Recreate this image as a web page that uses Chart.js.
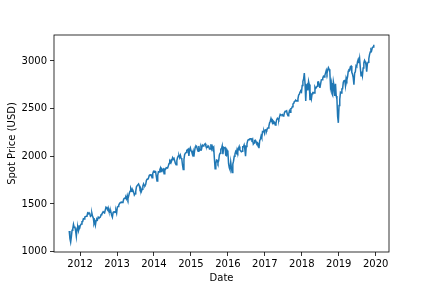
<!DOCTYPE html>
<html>
<head>
<meta charset="utf-8">
<script src="https://cdn.jsdelivr.net/npm/chart.js@4.4.1/dist/chart.umd.min.js"></script>
<style>
  html, body { margin: 0; padding: 0; background: #fff; }
  #wrap { width: 432px; height: 288px; }
</style>
</head>
<body>
<div id="wrap"><canvas id="chartJSContainer" width="432" height="288"></canvas></div>
<script>
// weekly closes (Fridays), first week 2011-09-16
var firstWeek = '2011-09-16';
var spx2011 = [1216, 1136, 1099, 1155, 1224, 1238, 1285, 1253, 1263, 1216, 1159, 1244, 1255, 1219, 1265, 1258];
var spx2012 = [1278, 1289, 1315, 1316, 1345, 1343, 1362, 1366, 1370, 1371, 1404, 1397, 1408, 1398, 1370, 1378,
  1403, 1369, 1353, 1295, 1318, 1278, 1325, 1343, 1335, 1362, 1355, 1357, 1363, 1386, 1391, 1405, 1418, 1411,
  1407, 1438, 1466, 1460, 1441, 1461, 1429, 1433, 1412, 1414, 1380, 1360, 1409, 1416, 1418, 1413, 1430, 1402];
var spx2013 = [1466, 1472, 1486, 1503, 1513, 1518, 1520, 1516, 1518, 1552, 1561, 1557, 1569, 1553, 1588, 1555,
  1582, 1614, 1634, 1667, 1650, 1631, 1643, 1626, 1593, 1606, 1632, 1680, 1692, 1692, 1710, 1691, 1656, 1664,
  1633, 1655, 1688, 1710, 1692, 1690, 1703, 1745, 1760, 1762, 1771, 1798, 1804, 1806, 1805, 1775, 1818, 1841];
var spx2014 = [1832, 1842, 1839, 1790, 1741, 1797, 1838, 1836, 1859, 1878, 1841, 1866, 1857, 1865, 1816, 1865,
  1863, 1881, 1878, 1878, 1900, 1924, 1950, 1937, 1963, 1961, 1985, 1968, 1978, 1978, 1925, 1910, 1955, 1988,
  2003, 2008, 1985, 2010, 1982, 1968, 1906, 1862, 1965, 2018, 2032, 2039, 2064, 2068, 2075, 2003, 2071, 2089];
var spx2015 = [2058, 2045, 2019, 2051, 1995, 2055, 2097, 2110, 2104, 2071, 2053, 2108, 2061, 2067, 2102, 2081,
  2117, 2108, 2116, 2123, 2131, 2107, 2092, 2094, 2110, 2102, 2077, 2077, 2127, 2080, 2104, 2078, 2092, 1971,
  1870, 1921, 1961, 1958, 1931, 1951, 2015, 2033, 2075, 2079, 2109, 2023, 2089, 2090, 2092, 2012, 2006, 2061];
var spx2016 = [2044, 1922, 1880, 1859, 1940, 1880, 1829, 1918, 1948, 1999, 2022, 2050, 2035, 2073, 2048, 2081,
  2102, 2065, 2057, 2047, 2052, 2099, 2099, 2119, 2071, 2000, 2103, 2130, 2162, 2175, 2174, 2183, 2184, 2184,
  2169, 2180, 2128, 2139, 2165, 2168, 2153, 2133, 2141, 2126, 2085, 2164, 2182, 2213, 2192, 2260, 2258, 2264, 2239];
var spx2017 = [2277, 2275, 2271, 2295, 2297, 2316, 2351, 2367, 2396, 2373, 2378, 2344, 2363, 2355, 2329, 2349,
  2384, 2399, 2391, 2382, 2416, 2439, 2432, 2433, 2438, 2423, 2425, 2459, 2473, 2472, 2477, 2441, 2426, 2443,
  2477, 2461, 2500, 2502, 2519, 2549, 2553, 2575, 2581, 2588, 2582, 2579, 2603, 2642, 2652, 2675, 2683, 2674];
var spx2018 = [2743, 2786, 2810, 2873, 2762, 2581, 2732, 2747, 2691, 2786, 2752, 2588, 2641, 2604, 2656, 2670,
  2670, 2663, 2728, 2713, 2721, 2735, 2779, 2780, 2755, 2718, 2760, 2801, 2802, 2819, 2840, 2833, 2850, 2875,
  2902, 2872, 2905, 2930, 2914, 2886, 2728, 2768, 2658, 2641, 2781, 2736, 2633, 2760, 2633, 2600, 2417, 2351];
var spx2019 = [2532, 2596, 2671, 2665, 2707, 2708, 2776, 2793, 2804, 2743, 2822, 2800, 2834, 2893, 2907, 2905,
  2940, 2946, 2881, 2860, 2826, 2752, 2873, 2887, 2950, 2942, 2990, 3014, 2977, 3026, 2932, 2844, 2889, 2847,
  2926, 2979, 3007, 2992, 2962, 2887, 2970, 2986, 3023, 3067, 3093, 3120, 3110, 3141, 3146, 3169];
var yearTicks = [2012, 2013, 2014, 2015, 2016, 2017, 2018, 2019, 2020];
var priceTicks = [1000, 1500, 2000, 2500, 3000];

var prices = [].concat(spx2011, spx2012, spx2013, spx2014, spx2015, spx2016, spx2017, spx2018, spx2019);

function decimalYear(d) {
  var y = d.getUTCFullYear();
  var start = Date.UTC(y, 0, 1);
  var end = Date.UTC(y + 1, 0, 1);
  return y + (d.getTime() - start) / (end - start);
}

var t0 = new Date(firstWeek + 'T00:00:00Z').getTime();
var points = prices.map(function(p, i) {
  return { x: decimalYear(new Date(t0 + i * 7 * 86400000)), y: p };
});

// matplotlib-like 5% margins
var xs = points.map(p => p.x);
var xMin = Math.min.apply(null, xs), xMax = Math.max.apply(null, xs);
var yMin = Math.min.apply(null, prices), yMax = Math.max.apply(null, prices);
var xPad = (xMax - xMin) * 0.05, yPad = (yMax - yMin) * 0.05;

var frame = {
  id: 'frame',
  afterDraw: function(chart) {
    var a = chart.chartArea;
    var c = chart.ctx;
    c.save();
    c.strokeStyle = '#000';
    c.lineWidth = 0.8;
    c.strokeRect(a.left, a.top, a.right - a.left, a.bottom - a.top);
    c.restore();
  }
};

Chart.defaults.font.family = '"DejaVu Sans", sans-serif';
Chart.defaults.font.size = 10;
Chart.defaults.color = '#000';

const ctx = document.getElementById('chartJSContainer').getContext('2d');
const chart = new Chart(ctx, {
  type: 'line',
  data: {
    datasets: [{
      data: points,
      borderColor: '#1f77b4',
      borderWidth: 1.5,
      pointRadius: 0,
      tension: 0,
      fill: false
    }]
  },
  options: {
    responsive: false,
    animation: false,
    events: [],
    layout: { padding: { top: 35, right: 43, left: 0, bottom: 0 } },
    plugins: { legend: { display: false }, tooltip: { enabled: false } },
    scales: {
      x: {
        type: 'linear',
        min: xMin - xPad,
        max: xMax + xPad,
        afterFit: s => { s.height = 36; },
        afterBuildTicks: s => { s.ticks = yearTicks.map(v => ({ value: v })); },
        grid: { drawOnChartArea: false, tickLength: 4, tickColor: '#000', tickWidth: 0.8 },
        border: { display: false },
        ticks: { padding: 2, maxRotation: 0, callback: v => String(v) },
        title: { display: true, text: 'Date', padding: { top: 0, bottom: 4 } }
      },
      y: {
        min: yMin - yPad,
        max: yMax + yPad,
        afterFit: s => { s.width = 54; },
        afterBuildTicks: s => { s.ticks = priceTicks.map(v => ({ value: v })); },
        grid: { drawOnChartArea: false, tickLength: 4, tickColor: '#000', tickWidth: 0.8 },
        border: { display: false },
        ticks: { padding: 3, callback: v => String(v) },
        title: { display: true, text: 'Spot Price (USD)', padding: { top: 6, bottom: 0 } }
      }
    }
  },
  plugins: [frame]
});
</script>
</body>
</html>
